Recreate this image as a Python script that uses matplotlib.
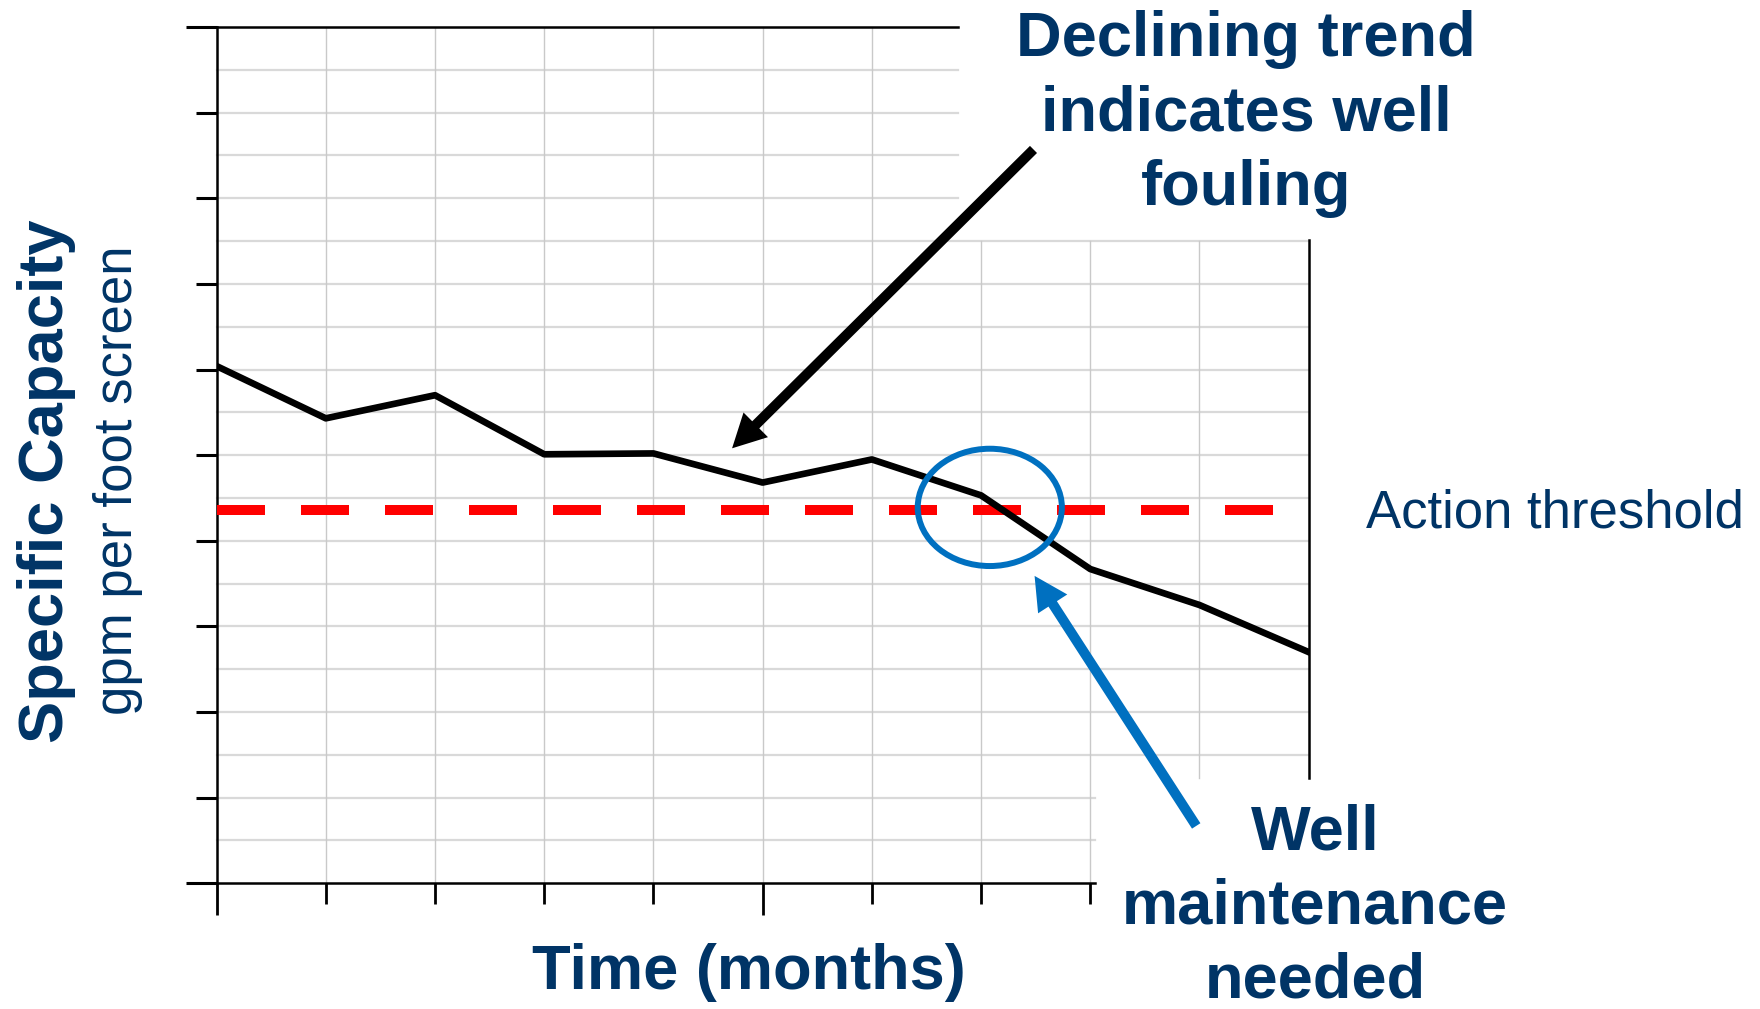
import matplotlib
matplotlib.use("Agg")
import matplotlib.pyplot as plt
from matplotlib.patches import Ellipse

plt.rcParams['font.family'] = ['Liberation Sans', 'DejaVu Sans']

# data
months = [0, 1, 2, 3, 4, 5, 6, 7, 8, 9, 10]
capacity = [6.04, 5.43, 5.70, 5.01, 5.02, 4.68, 4.95, 4.53, 3.67, 3.25, 2.70]
threshold = 4.36
threshold_end = 9.67

navy = '#003466'
blue = '#0070C0'
grid_h = '#d9d9d9'
grid_v = '#c9c9c9'

W, H = 1760, 1009
fig = plt.figure(figsize=(W / 100, H / 100), dpi=100)
ax = fig.add_axes([216.6 / W, 1 - 883.3 / H, (1308.7 - 216.6) / W, (883.3 - 27) / H])
ax.set_xlim(0, 10)
ax.set_ylim(0, 10)

# grid (two overlapping panels in the original)
for i in range(1, 20):
    y = i * 0.5
    if y > 7.5:
        x1 = 6.79
    elif y >= 1.5:
        x1 = 10
    else:
        x1 = 8.04
    ax.plot([0, x1], [y, y], color=grid_h, lw=1.6, zorder=1, clip_on=False)
for x in range(1, 10):
    if x <= 6:
        y0, y1 = 0, 10
    elif x <= 8:
        y0, y1 = 0, 7.5
    else:
        y0, y1 = 1.23, 7.5
    ax.plot([x, x], [y0, y1], color=grid_v, lw=1.0, zorder=1)

# frame lines
for s in ['top', 'right']:
    ax.spines[s].set_visible(False)
ax.spines['left'].set_linewidth(1.8)
ax.spines['bottom'].set_linewidth(1.8)
ax.spines['bottom'].set_bounds(0, 8.04)
ax.plot([0, 6.79], [10, 10], color='black', lw=1.8, clip_on=False, zorder=3)
ax.plot([10, 10], [1.23, 7.51], color='black', lw=1.8, clip_on=False, zorder=3)

ax.set_xticks([0, 5])
ax.set_xticks([1, 2, 3, 4, 6, 7, 8], minor=True)
ax.set_yticks([0, 10])
ax.set_yticks(range(1, 10), minor=True)
ax.tick_params(axis='x', which='major', length=23, width=2.0, direction='out')
ax.tick_params(axis='x', which='minor', length=15, width=2.0, direction='out')
ax.tick_params(axis='y', which='major', length=22, width=2.2, direction='out')
ax.tick_params(axis='y', which='minor', length=15, width=2.2, direction='out')
ax.tick_params(labelbottom=False, labelleft=False)

# threshold and data
ax.plot([0, threshold_end], [threshold, threshold], color='#ff0000', lw=7.2,
        dashes=(4.8, 3.6), solid_capstyle='butt', zorder=4)
ax.plot(months, capacity, color='black', lw=4.8, zorder=5)

ax.add_patch(Ellipse((7.08, 4.39), 1.32, 1.37, fill=False, ec=blue, lw=4.3, zorder=6))

ax.annotate('', xy=(4.72, 5.08), xytext=(7.48, 8.57),
            arrowprops=dict(arrowstyle='simple,head_length=2.4,head_width=2.5,tail_width=0.72',
                            mutation_scale=10, fc='black', ec='none', shrinkA=0, shrinkB=0),
            zorder=7)
ax.annotate('', xy=(7.49, 3.59), xytext=(8.97, 0.67),
            arrowprops=dict(arrowstyle='simple,head_length=2.4,head_width=2.5,tail_width=0.72',
                            mutation_scale=10, fc=blue, ec='none', shrinkA=0, shrinkB=0),
            zorder=7)

# labels
def ft(px, py, s, **kw):
    fig.text(px / W, 1 - py / H, s, color=navy, **kw)

ft(1246, 114, 'Declining trend\nindicates well\nfouling', fontsize=45.5, fontweight='bold',
   ha='center', va='center', linespacing=1.33)
ft(1315, 907, 'Well\nmaintenance\nneeded', fontsize=45.5, fontweight='bold',
   ha='center', va='center', linespacing=1.33)
ft(749, 973, 'Time (months)', fontsize=45.5, fontweight='bold', ha='center', va='center')
ft(47, 481, 'Specific Capacity', fontsize=45.5, fontweight='bold', rotation=90,
   ha='center', va='center')
ft(118, 480, 'gpm per foot screen', fontsize=38, rotation=90, ha='center', va='center')
ft(1366, 513, 'Action threshold', fontsize=38, ha='left', va='center')

fig.savefig('out.png', dpi=100)
